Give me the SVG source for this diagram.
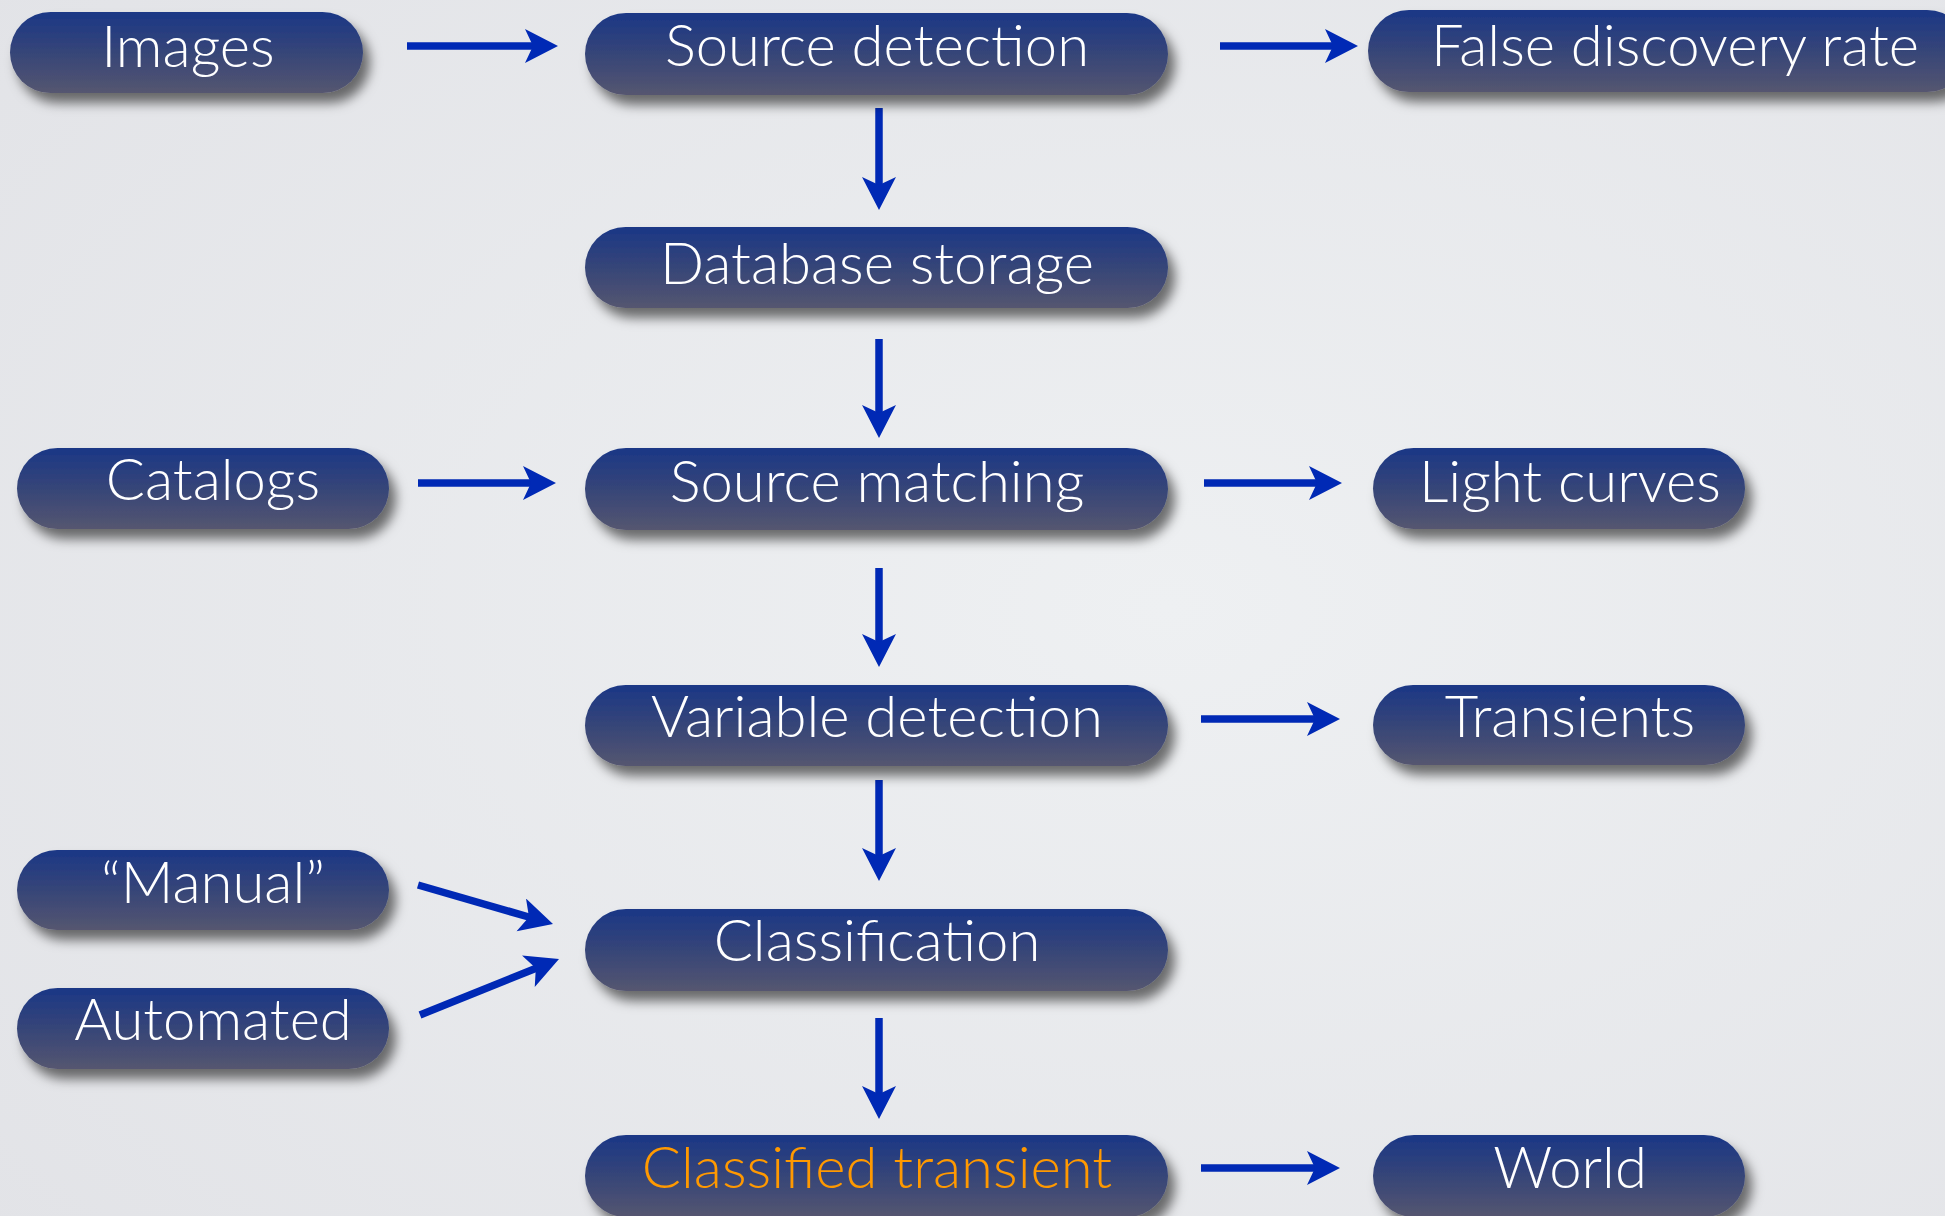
<svg xmlns="http://www.w3.org/2000/svg" width="1945" height="1216" viewBox="0 0 1945 1216">
<style>
.pill{fill:url(#pg);filter:url(#sh)}
.t{font-family:Lato,"Open Sans","Liberation Sans",sans-serif;font-weight:300;font-size:58px;fill:#ffffff;text-anchor:middle}
.orange{fill:#ff9900}
.c{stroke:#0029b5;stroke-width:7.5;fill:none;marker-end:url(#ah)}
</style>
<defs>
<radialGradient id="bg" cx="0.6" cy="0.5" r="0.8">
<stop offset="0" stop-color="#eef0f2"/>
<stop offset="1" stop-color="#e2e3e7"/>
</radialGradient>
<linearGradient id="pg" x1="0" y1="0" x2="0" y2="1">
<stop offset="0" stop-color="#1b3786"/>
<stop offset="0.5" stop-color="#364578"/>
<stop offset="1" stop-color="#555670"/>
</linearGradient>
<filter id="sh" x="-10%" y="-30%" width="125%" height="170%">
<feDropShadow dx="7" dy="10" stdDeviation="6" flood-color="#000" flood-opacity="0.55"/>
</filter>
<marker id="ah" markerUnits="userSpaceOnUse" markerWidth="40" markerHeight="40" refX="15" refY="17" orient="auto">
<path d="M0,0 L33,17 L0,34 L8,17 Z" fill="#0029b5"/>
</marker>
</defs>
<rect width="1945" height="1216" fill="url(#bg)"/>
<g id="connectors">
<line class="c" x1="407" y1="46" x2="540" y2="46"/>
<line class="c" x1="1220" y1="46" x2="1340" y2="46"/>
<line class="c" x1="879" y1="108" x2="879" y2="192"/>
<line class="c" x1="879" y1="339" x2="879" y2="420"/>
<line class="c" x1="418" y1="483" x2="538" y2="483"/>
<line class="c" x1="1204" y1="483" x2="1324" y2="483"/>
<line class="c" x1="879" y1="568" x2="879" y2="649"/>
<line class="c" x1="1201" y1="719" x2="1322" y2="719"/>
<line class="c" x1="879" y1="780" x2="879" y2="863"/>
<line class="c" x1="418" y1="885" x2="535.7" y2="919"/>
<line class="c" x1="420" y1="1015" x2="542.3" y2="965.7"/>
<line class="c" x1="879" y1="1018" x2="879" y2="1101"/>
<line class="c" x1="1201" y1="1168" x2="1322" y2="1168"/>
</g>
<g id="images"><rect class="pill" x="10" y="12" width="353" height="81" rx="40.5"/><text class="t" x="188" y="67">Images</text></g>
<g id="source-detection"><rect class="pill" x="585" y="13" width="583" height="82" rx="41"/><text class="t" x="877" y="66">Source detection</text></g>
<g id="false-discovery-rate"><rect class="pill" x="1368" y="10" width="600" height="82" rx="41"/><text class="t" x="1675" y="66">False discovery rate</text></g>
<g id="database-storage"><rect class="pill" x="585" y="227" width="583" height="81" rx="40.5"/><text class="t" x="877" y="284">Database storage</text></g>
<g id="catalogs"><rect class="pill" x="17" y="448" width="372" height="81" rx="40.5"/><text class="t" x="213" y="500">Catalogs</text></g>
<g id="source-matching"><rect class="pill" x="585" y="448" width="583" height="82" rx="41"/><text class="t" x="877" y="502">Source matching</text></g>
<g id="light-curves"><rect class="pill" x="1373" y="448" width="372" height="81" rx="40.5"/><text class="t" x="1570" y="502">Light curves</text></g>
<g id="variable-detection"><rect class="pill" x="585" y="685" width="583" height="81" rx="40.5"/><text class="t" x="877" y="737">Variable detection</text></g>
<g id="transients"><rect class="pill" x="1373" y="685" width="372" height="80" rx="40"/><text class="t" x="1570" y="737">Transients</text></g>
<g id="manual"><rect class="pill" x="17" y="850" width="372" height="80" rx="40"/><text class="t" x="213" y="903">“Manual”</text></g>
<g id="classification"><rect class="pill" x="585" y="909" width="583" height="82" rx="41"/><text class="t" x="877" y="961">Classification</text></g>
<g id="automated"><rect class="pill" x="17" y="988" width="372" height="81" rx="40.5"/><text class="t" x="213" y="1040">Automated</text></g>
<g id="classified-transient"><rect class="pill" x="585" y="1135" width="583" height="82" rx="41"/><text class="t orange" x="877" y="1188">Classified transient</text></g>
<g id="world"><rect class="pill" x="1373" y="1135" width="372" height="82" rx="41"/><text class="t" x="1570" y="1188">World</text></g>
</svg>
